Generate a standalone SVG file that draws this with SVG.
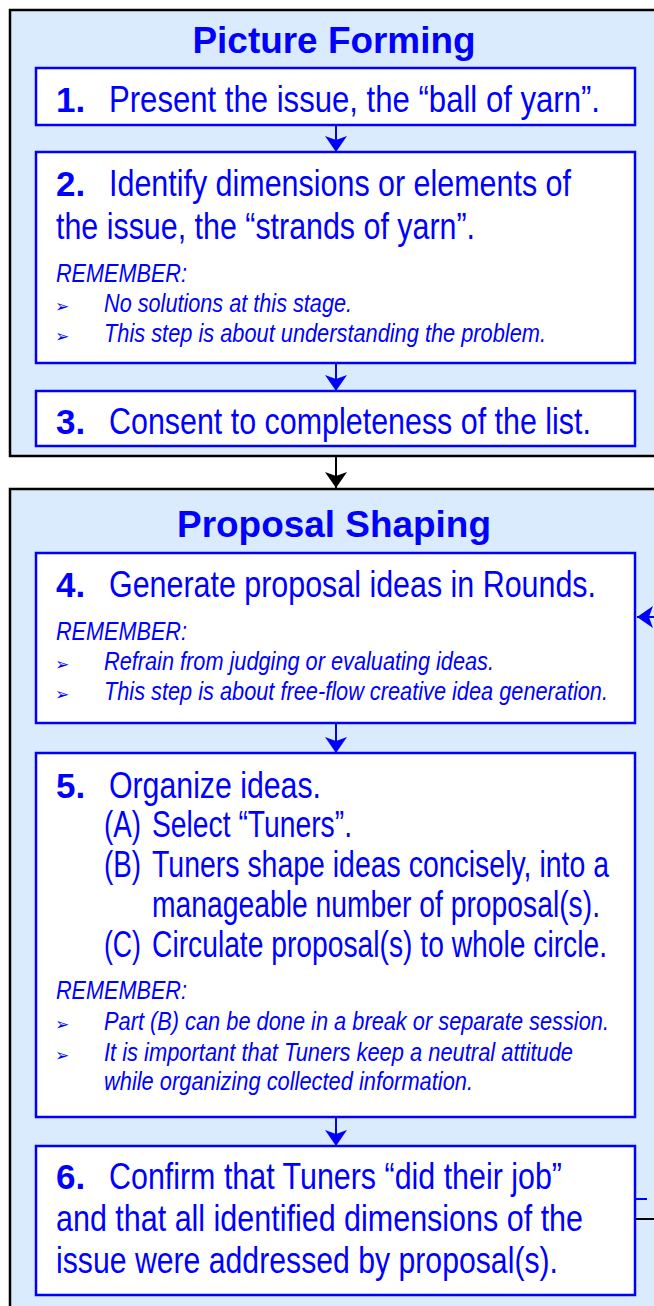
<svg xmlns="http://www.w3.org/2000/svg" width="654" height="1306" viewBox="0 0 654 1306">
<style>
.outer{fill:#dbebfe;stroke:#000;stroke-width:2.5}
.box{fill:#fff;stroke:#0000ff;stroke-width:2.5}
.title{font-family:"Liberation Sans",Arial,sans-serif;font-weight:bold;font-size:37px;fill:#0000ff;text-anchor:middle}
.num{font-family:"Liberation Sans",Arial,sans-serif;font-weight:bold;font-size:35px;fill:#0000ff}
.main{font-family:"Liberation Sans Narrow","Liberation Sans",Arial,sans-serif;font-size:36px;fill:#0000ff}
.note{font-family:"Liberation Sans Narrow","Liberation Sans",Arial,sans-serif;font-style:italic;font-size:25px;fill:#0000ff}
.bul{font-family:"DejaVu Sans",sans-serif;font-size:17px;fill:#0000ff}
.cb{fill:none;stroke:#0000ff;stroke-width:2}
.ck{fill:none;stroke:#000;stroke-width:2}
</style>
<defs>
<marker id="ab" markerUnits="userSpaceOnUse" viewBox="0 0 16 22" refX="16" refY="11" markerWidth="16" markerHeight="22" orient="auto">
<path d="M0,0 L16,11 L0,22 L4,11 Z" fill="#0000ff"/>
</marker>
<marker id="ak" markerUnits="userSpaceOnUse" viewBox="0 0 16 22" refX="16" refY="11" markerWidth="16" markerHeight="22" orient="auto">
<path d="M0,0 L16,11 L0,22 L4,11 Z" fill="#000"/>
</marker>
</defs>

<g id="stage-picture-forming">
<rect class="outer" x="10" y="10" width="700" height="446"/>
<text class="title" x="334" y="53" textLength="283" lengthAdjust="spacingAndGlyphs">Picture Forming</text>
</g>
<g id="stage-proposal-shaping">
<rect class="outer" x="10" y="489" width="700" height="860"/>
<text class="title" x="334" y="537" textLength="314" lengthAdjust="spacingAndGlyphs">Proposal Shaping</text>
</g>

<g id="step1">
<rect class="box" x="36" y="68" width="599" height="57"/>
<text class="num" x="56" y="112">1.</text>
<text class="main" x="109" y="112" textLength="491" lengthAdjust="spacingAndGlyphs">Present the issue, the “ball of yarn”.</text>
</g>

<g id="step2">
<rect class="box" x="36" y="152" width="599" height="211"/>
<text class="num" x="56" y="196">2.</text>
<text class="main" x="109" y="196" textLength="462" lengthAdjust="spacingAndGlyphs">Identify dimensions or elements of</text>
<text class="main" x="56" y="239" textLength="419" lengthAdjust="spacingAndGlyphs">the issue, the “strands of yarn”.</text>
<text class="note" x="56" y="282" textLength="131" lengthAdjust="spacingAndGlyphs">REMEMBER:</text>
<text class="bul" x="55" y="312">➢</text>
<text class="note" x="104" y="312" textLength="248" lengthAdjust="spacingAndGlyphs">No solutions at this stage.</text>
<text class="bul" x="55" y="342">➢</text>
<text class="note" x="104" y="342" textLength="442" lengthAdjust="spacingAndGlyphs">This step is about understanding the problem.</text>
</g>

<g id="step3">
<rect class="box" x="36" y="391" width="599" height="55"/>
<text class="num" x="56" y="434">3.</text>
<text class="main" x="109" y="434" textLength="482" lengthAdjust="spacingAndGlyphs">Consent to completeness of the list.</text>
</g>

<g id="step4">
<rect class="box" x="36" y="553" width="599" height="170"/>
<text class="num" x="56" y="597">4.</text>
<text class="main" x="109" y="597" textLength="487" lengthAdjust="spacingAndGlyphs">Generate proposal ideas in Rounds.</text>
<text class="note" x="56" y="640" textLength="131" lengthAdjust="spacingAndGlyphs">REMEMBER:</text>
<text class="bul" x="55" y="670">➢</text>
<text class="note" x="104" y="670" textLength="390" lengthAdjust="spacingAndGlyphs">Refrain from judging or evaluating ideas.</text>
<text class="bul" x="55" y="700">➢</text>
<text class="note" x="104" y="700" textLength="504" lengthAdjust="spacingAndGlyphs">This step is about free-flow creative idea generation.</text>
</g>

<g id="step5">
<rect class="box" x="36" y="753" width="599" height="364"/>
<text class="num" x="56" y="798">5.</text>
<text class="main" x="109" y="798" textLength="212" lengthAdjust="spacingAndGlyphs">Organize ideas.</text>
<text class="main" x="104" y="837" textLength="37" lengthAdjust="spacingAndGlyphs">(A)</text>
<text class="main" x="152" y="837" textLength="200" lengthAdjust="spacingAndGlyphs">Select “Tuners”.</text>
<text class="main" x="104" y="877" textLength="37" lengthAdjust="spacingAndGlyphs">(B)</text>
<text class="main" x="152" y="877" textLength="457" lengthAdjust="spacingAndGlyphs">Tuners shape ideas concisely, into a</text>
<text class="main" x="152" y="917" textLength="448" lengthAdjust="spacingAndGlyphs">manageable number of proposal(s).</text>
<text class="main" x="104" y="957" textLength="37" lengthAdjust="spacingAndGlyphs">(C)</text>
<text class="main" x="152" y="957" textLength="455" lengthAdjust="spacingAndGlyphs">Circulate proposal(s) to whole circle.</text>
<text class="note" x="56" y="999" textLength="131" lengthAdjust="spacingAndGlyphs">REMEMBER:</text>
<text class="bul" x="55" y="1030">➢</text>
<text class="note" x="104" y="1030" textLength="505" lengthAdjust="spacingAndGlyphs">Part (B) can be done in a break or separate session.</text>
<text class="bul" x="55" y="1061">➢</text>
<text class="note" x="104" y="1061" textLength="469" lengthAdjust="spacingAndGlyphs">It is important that Tuners keep a neutral attitude</text>
<text class="note" x="104" y="1090" textLength="369" lengthAdjust="spacingAndGlyphs">while organizing collected information.</text>
</g>

<g id="step6">
<rect class="box" x="36" y="1146" width="599" height="149"/>
<text class="num" x="56" y="1189">6.</text>
<text class="main" x="109" y="1189" textLength="453" lengthAdjust="spacingAndGlyphs">Confirm that Tuners “did their job”</text>
<text class="main" x="56" y="1231" textLength="527" lengthAdjust="spacingAndGlyphs">and that all identified dimensions of the</text>
<text class="main" x="56" y="1273" textLength="502" lengthAdjust="spacingAndGlyphs">issue were addressed by proposal(s).</text>
</g>

<g id="connectors">
<path class="cb" d="M336,125 L336,152" marker-end="url(#ab)"/>
<path class="cb" d="M336,363 L336,391" marker-end="url(#ab)"/>
<path class="ck" d="M336,457 L336,488" marker-end="url(#ak)"/>
<path class="cb" d="M336,723 L336,753" marker-end="url(#ab)"/>
<path class="cb" d="M336,1117 L336,1146" marker-end="url(#ab)"/>
<path class="cb" d="M636,1199 L647,1199"/>
<path class="ck" d="M636,1219 L700,1219"/>
<path class="cb" d="M690,617 L637,617" marker-end="url(#ab)"/>
</g>
</svg>
